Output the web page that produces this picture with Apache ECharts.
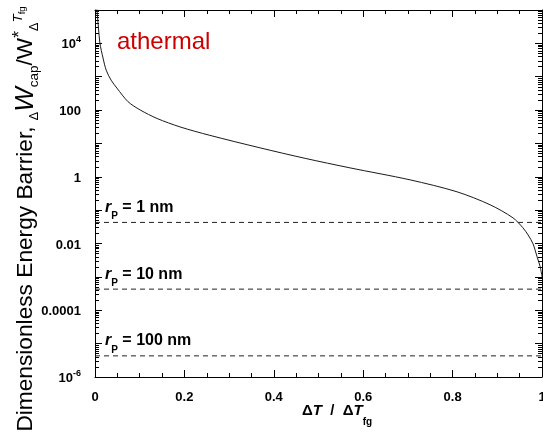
<!DOCTYPE html>
<html>
<head>
<meta charset="utf-8">
<script src="https://cdn.jsdelivr.net/npm/echarts@6/dist/echarts.min.js"></script>
<style>
  html, body { margin: 0; padding: 0; background: #ffffff; }
  #chart { width: 543px; height: 444px; }
</style>
</head>
<body>
<div id="chart"></div>
<script>
// Reduced undercooling ΔT/ΔT_fg and the athermal dimensionless energy barrier
const dtRatio = [0.003, 0.005, 0.011, 0.018, 0.025, 0.036, 0.049, 0.074, 0.101, 0.139, 0.19, 0.257, 0.369, 0.47, 0.57, 0.705, 0.81, 0.884, 0.935, 0.957, 0.969, 0.98, 0.989, 0.996, 1.0];
const barrier = [140000, 81000, 10200, 3630, 1580, 790, 457, 178, 101, 56, 31.4, 17.5, 7.4, 3.58, 1.86, 0.81, 0.355, 0.145, 0.059, 0.030, 0.018, 0.0098, 0.004, 0.002, 0.001];

// Thermal-fluctuation reference levels for three pore radii
const poreRadius = ['1 nm', '10 nm', '100 nm'];
const poreLevel = [0.043, 0.00043, 0.0000043];

// Axis ticks
const xTickLabels = [0, 0.2, 0.4, 0.6, 0.8, 1];
const yDecades = [1e-6, 1e-5, 1e-4, 1e-3, 1e-2, 1e-1, 1, 10, 100, 1e3, 1e4, 1e5];
const yLabelValues = [1e-6, 1e-4, 1e-2, 1, 100, 1e4];
const yLabelText = ['{n|10}{e|-6}', '{n|0.0001}', '{n|0.01}', '{n|1}', '{n|100}', '{n|10}{e|4}'];

// log-style minor ticks (2..9 within each decade)
const yMinor = [];
for (let k = -6; k <= 4; k++) {
  for (let m = 2; m <= 9; m++) yMinor.push(m * Math.pow(10, k));
}

const FONT = 'Liberation Sans, Arial, sans-serif';
const AXIS_COLOR = '#000';

const chart = echarts.init(document.getElementById('chart'), null, { renderer: 'canvas' });

function yAxisBase(position, opts) {
  return Object.assign({
    type: 'log',
    logBase: 10,
    min: 1e-6,
    max: 1e5,
    position: position,
    splitLine: { show: false },
    axisLine: { show: true, lineStyle: { color: AXIS_COLOR, width: 1 } },
    axisLabel: { show: false },
    axisTick: { show: true, inside: true, length: 7, lineStyle: { color: AXIS_COLOR } }
  }, opts);
}

const labelRich = {
  n: { fontFamily: FONT, fontWeight: 'bold', fontSize: 13, color: '#000', lineHeight: 16, verticalAlign: 'bottom' },
  e: { fontFamily: FONT, fontWeight: 'bold', fontSize: 9, color: '#000', lineHeight: 16, verticalAlign: 'top', padding: [0, 0, 6, 0] }
};

const poreRich = {
  r: { fontFamily: FONT, fontWeight: 'bold', fontStyle: 'italic', fontSize: 16, color: '#000', lineHeight: 22, verticalAlign: 'top' },
  p: { fontFamily: FONT, fontWeight: 'bold', fontSize: 10, color: '#000', lineHeight: 12, verticalAlign: 'bottom' },
  t: { fontFamily: FONT, fontWeight: 'bold', fontSize: 16, color: '#000', lineHeight: 22, verticalAlign: 'top' }
};

// one dashed horizontal series per pore radius, labelled at its left end
const poreSeries = poreLevel.map((v, i) => ({
  name: 'rP ' + poreRadius[i],
  type: 'line',
  xAxisIndex: 0,
  yAxisIndex: 0,
  silent: true,
  symbol: 'circle',
  symbolSize: 0,
  showSymbol: true,
  lineStyle: { color: '#222', width: 1, type: [5, 4] },
  label: { show: false },
  data: [
    {
      value: [0, v],
      label: {
        show: true,
        position: 'top',
        align: 'left',
        offset: [10, 4],
        formatter: '{r|r}{p|P}{t| = ' + poreRadius[i] + '}',
        rich: poreRich
      }
    },
    { value: [1, v] }
  ]
}));

const option = {
  animation: false,
  backgroundColor: '#ffffff',
  grid: { left: 95, right: 1, top: 10, bottom: 67, containLabel: false, outerBoundsMode: 'none' },
  xAxis: [
    {
      type: 'value', min: 0, max: 1, interval: 0.2, position: 'bottom',
      splitLine: { show: false },
      axisLine: { show: true, lineStyle: { color: AXIS_COLOR, width: 1 } },
      axisTick: { show: true, inside: true, length: 7, lineStyle: { color: AXIS_COLOR } },
      minorTick: { show: true, splitNumber: 4, length: 4, lineStyle: { color: AXIS_COLOR } },
      axisLabel: {
        show: true, margin: 14, fontFamily: FONT, fontWeight: 'bold', fontSize: 13, color: '#000',
        customValues: xTickLabels,
        formatter: v => String(+v.toFixed(1))
      }
    },
    {
      type: 'value', min: 0, max: 1, interval: 0.2, position: 'top',
      splitLine: { show: false },
      axisLine: { show: true, lineStyle: { color: AXIS_COLOR, width: 1 } },
      axisTick: { show: true, inside: true, length: 7, lineStyle: { color: AXIS_COLOR } },
      minorTick: { show: true, splitNumber: 4, length: 4, lineStyle: { color: AXIS_COLOR } },
      axisLabel: { show: false }
    }
  ],
  yAxis: [
    yAxisBase('left', {
      axisTick: { show: true, inside: true, length: 7, customValues: yDecades, lineStyle: { color: AXIS_COLOR } },
      axisLabel: {
        show: true, margin: 14, customValues: yLabelValues,
        formatter: v => {
          let best = 0;
          for (let i = 0; i < yLabelValues.length; i++) {
            if (Math.abs(Math.log10(v) - Math.log10(yLabelValues[i])) < Math.abs(Math.log10(v) - Math.log10(yLabelValues[best]))) best = i;
          }
          return yLabelText[best];
        },
        rich: labelRich
      }
    }),
    yAxisBase('left', {
      axisLine: { show: false },
      axisTick: { show: true, inside: true, length: 4, customValues: yMinor, lineStyle: { color: AXIS_COLOR } }
    }),
    yAxisBase('right', {
      axisTick: { show: true, inside: true, length: 7, customValues: yDecades, lineStyle: { color: AXIS_COLOR } }
    }),
    yAxisBase('right', {
      axisLine: { show: false },
      axisTick: { show: true, inside: true, length: 4, customValues: yMinor, lineStyle: { color: AXIS_COLOR } }
    })
  ],
  series: [
    {
      name: 'athermal',
      type: 'line',
      xAxisIndex: 0,
      yAxisIndex: 0,
      data: dtRatio.map((x, i) => [x, barrier[i]]),
      showSymbol: false,
      smooth: 0.3,
      clip: true,
      lineStyle: { color: '#1a1a1a', width: 1 },
      silent: true
    }
  ].concat(poreSeries),
  graphic: [
    {
      type: 'text',
      left: 117, top: 30,
      style: { text: 'athermal', fontFamily: FONT, fontSize: 24, fill: '#cc0000' }
    },
    {
      type: 'text',
      x: 26, y: 219,
      rotation: Math.PI / 2,
      style: {
        text: '{b|Dimensionless Energy Barrier, }{s|Δ}{w|W}{c|cap}{b|/W}{st|*}{s|Δ}{t|T}{f|fg}',
        align: 'center',
        verticalAlign: 'middle',
        rich: {
          b: { fontFamily: FONT, fontSize: 22.7, fill: '#000', lineHeight: 30, verticalAlign: 'middle' },
          w: { fontFamily: FONT, fontSize: 26, fontStyle: 'italic', fill: '#000', lineHeight: 30, verticalAlign: 'middle' },
          s: { fontFamily: FONT, fontSize: 12.5, fill: '#000', lineHeight: 30, verticalAlign: 'bottom' },
          c: { fontFamily: FONT, fontSize: 13.5, fill: '#000', lineHeight: 30, verticalAlign: 'bottom' },
          st: { fontFamily: FONT, fontSize: 17.5, fill: '#000', lineHeight: 30, verticalAlign: 'top' },
          t: { fontFamily: FONT, fontSize: 13.5, fontStyle: 'italic', fill: '#000', lineHeight: 30, verticalAlign: 'top' },
          f: { fontFamily: FONT, fontSize: 9.5, fill: '#000', lineHeight: 30, verticalAlign: 'top', padding: [6, 0, 0, 0] }
        }
      }
    },
    {
      type: 'text',
      left: 302, top: 403,
      style: {
        text: '{b|Δ}{i|T}{b|  /  Δ}{i|T}{f|fg}',
        rich: {
          b: { fontFamily: FONT, fontWeight: 'bold', fontSize: 15, fill: '#000', lineHeight: 24, verticalAlign: 'top' },
          i: { fontFamily: FONT, fontWeight: 'bold', fontStyle: 'italic', fontSize: 15, fill: '#000', lineHeight: 24, verticalAlign: 'top' },
          f: { fontFamily: FONT, fontWeight: 'bold', fontSize: 10, fill: '#000', lineHeight: 24, verticalAlign: 'bottom' }
        }
      }
    }
  ]
};

chart.setOption(option);
</script>
</body>
</html>
